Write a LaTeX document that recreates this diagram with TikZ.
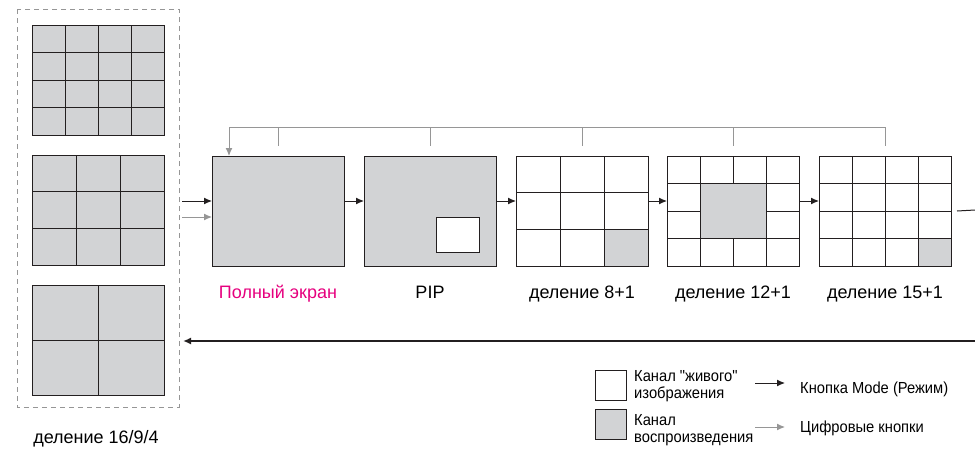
\documentclass[tikz,border=0pt]{standalone}
\usepackage{fontspec}
\setsansfont{Liberation Sans}
\newfontfamily\legfont{Liberation Sans}[FakeStretch=0.92]
\usetikzlibrary{calc,arrows.meta}
\definecolor{scrgray}{RGB}{210,211,213}
\definecolor{linkgray}{RGB}{150,150,150}
\definecolor{inkline}{RGB}{35,31,32}
\definecolor{fullpink}{RGB}{230,0,126}
\tikzset{
  screen/.style={draw=inkline,line width=1pt,minimum width=132pt,minimum height=110pt,inner sep=0pt,outer sep=0pt},
  gridline/.style={draw=inkline,line width=0.8pt},
  keybox/.style={draw=inkline,line width=1pt,minimum width=31pt,minimum height=30pt,inner sep=0pt},
  modearr/.style={draw=inkline,line width=1pt,-{Latex[length=8pt,width=7pt]}},
  digarr/.style={draw=linkgray,line width=1pt,-{Latex[length=8pt,width=7pt]}},
  scrlabel/.style={anchor=base,inner sep=0pt,font=\sffamily\fontsize{18}{21}\selectfont},
  legtext/.style={anchor=west,inner sep=0pt,align=left,font=\legfont\fontsize{16}{16.5}\selectfont},
}
\begin{document}
\begin{tikzpicture}[x=1pt,y=-1pt,font=\sffamily]
\useasboundingbox (0,0) rectangle (975,450);
% left column: 16 / 9 / 4
\draw[linkgray,line width=0.8pt,dash pattern=on 5pt off 4pt] (17,9) rectangle (179,407);
\node[screen,fill=scrgray] (s16) at (98,80) {};
\node[screen,fill=scrgray] (s9) at (98,210) {};
\node[screen,fill=scrgray] (s4) at (98,340) {};
\foreach \n/\k in {s16/4,s9/3,s4/2} {
  \pgfmathtruncatemacro\m{\k-1}
  \foreach \i in {1,...,\m} {
    \draw[gridline] ($(\n.north west)!\i/\k!(\n.north east)$) -- ($(\n.south west)!\i/\k!(\n.south east)$);
    \draw[gridline] ($(\n.north west)!\i/\k!(\n.south west)$) -- ($(\n.north east)!\i/\k!(\n.south east)$);
  }
}
\node[scrlabel] (l16) at (96,443) {деление 16/9/4};

% main row of screens
\node[screen,fill=scrgray] (full) at (278,211) {};
\node[screen,fill=scrgray] (pip) at (430,211) {};
\node[screen,fill=white] (s81) at (582,211) {};
\node[screen,fill=white] (s121) at (733,211) {};
\node[screen,fill=white] (s151) at (885,211) {};
\node[draw=inkline,line width=1pt,fill=white,minimum width=43pt,minimum height=35pt,inner sep=0pt] (inset) at (457.5,234.5) {};

% gray playback cells
\fill[scrgray] ($(s81.north west)+(88,73.33)$) rectangle (s81.south east);
\fill[scrgray] ($(s121.north west)+(33,27.5)$) rectangle ($(s121.north west)+(99,82.5)$);
\fill[scrgray] ($(s151.north west)+(99,82.5)$) rectangle (s151.south east);

% grids
\foreach \i in {1,2} {
  \draw[gridline] ($(s81.north west)!\i/3!(s81.north east)$) -- ($(s81.south west)!\i/3!(s81.south east)$);
  \draw[gridline] ($(s81.north west)!\i/3!(s81.south west)$) -- ($(s81.north east)!\i/3!(s81.south east)$);
}
\foreach \i in {1,2,3} {
  \draw[gridline] ($(s151.north west)!\i/4!(s151.north east)$) -- ($(s151.south west)!\i/4!(s151.south east)$);
  \draw[gridline] ($(s151.north west)!\i/4!(s151.south west)$) -- ($(s151.north east)!\i/4!(s151.south east)$);
}
\foreach \i in {1,3} {
  \draw[gridline] ($(s121.north west)!\i/4!(s121.north east)$) -- ($(s121.south west)!\i/4!(s121.south east)$);
  \draw[gridline] ($(s121.north west)!\i/4!(s121.south west)$) -- ($(s121.north east)!\i/4!(s121.south east)$);
}
\draw[gridline] (s121.north) -- ++(0,27.5) (s121.south) -- ++(0,-27.5)
  (s121.west) -- ++(33,0) (s121.east) -- ++(-33,0);
\draw[gridline] ($(s121.north west)+(33,27.5)$) rectangle ($(s121.north west)+(99,82.5)$);
\foreach \n in {s81,s121,s151}
  \draw[inkline,line width=1pt] (\n.north west) rectangle (\n.south east);

% labels
\node[scrlabel,text=fullpink] (lfull) at (278,298) {Полный экран};
\node[scrlabel] (lpip) at (430,298) {PIP};
\node[scrlabel] (l81) at (582,298) {деление 8+1};
\node[scrlabel] (l121) at (733,298) {деление 12+1};
\node[scrlabel] (l151) at (885,298) {деление 15+1};

% mode button chain
\coordinate (inmode) at (182,201);
\coordinate (indig) at (182,217);
\draw[modearr] (inmode) -- (inmode -| full.west);
\draw[digarr] (indig) -- (indig -| full.west);
\draw[modearr] ([yshift=10pt]full.east) -- ([yshift=10pt]pip.west);
\draw[modearr] ([yshift=10pt]pip.east) -- ([yshift=10pt]s81.west);
\draw[modearr] ([yshift=10pt]s81.east) -- ([yshift=10pt]s121.west);
\draw[modearr] ([yshift=10pt]s121.east) -- ([yshift=10pt]s151.west);
\coordinate (exit) at (975,210);
\draw[inkline,line width=1pt] ([xshift=6pt]s151.east) -- (exit);
\coordinate (backR) at (975,341);
\coordinate (backL) at (183,341);
\draw[modearr,line width=1.6pt] (backR) -- (backL);

% digit buttons
\coordinate (digtop) at (229,127);
\draw[digarr] (digtop) -- (digtop |- full.north);
\draw[linkgray,line width=1pt] (digtop) -- (digtop -| s151.north);
\foreach \n in {full,pip,s81,s121,s151}
  \draw[linkgray,line width=1pt] (\n.north |- digtop) -- ([yshift=10pt]\n.north);

% legend
\node[keybox,fill=white] (keylive) at (610.5,385) {};
\node[keybox,fill=scrgray] (keyplay) at (610.5,424.5) {};
\node[legtext] (txtlive) at (634,386) {Канал "живого"\\изображения};
\node[legtext] (txtplay) at (634,430) {Канал\\воспроизведения};
\coordinate (keymodeA) at (755,383);
\coordinate (keymodeB) at (785,383);
\coordinate (keydigA) at (755,427);
\coordinate (keydigB) at (785,427);
\draw[modearr] (keymodeA) -- (keymodeB);
\draw[digarr] (keydigA) -- (keydigB);
\node[legtext] (txtmode) at (800,389) {Кнопка Mode (Режим)};
\node[legtext] (txtdig) at (800,428) {Цифровые кнопки};
\end{tikzpicture}
\end{document}
